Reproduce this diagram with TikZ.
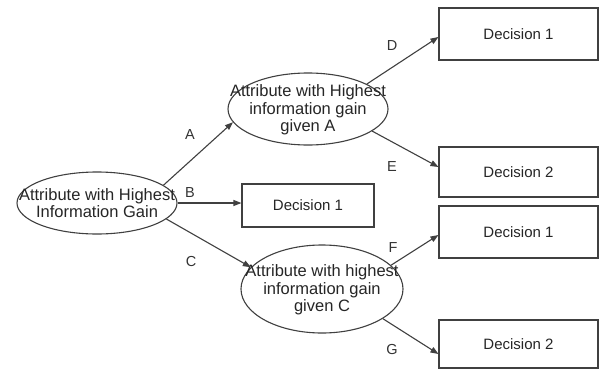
\documentclass[tikz,border=0pt]{standalone}
\usepackage{fontspec}
\setmainfont{Liberation Sans}
\usetikzlibrary{shapes.geometric,arrows.meta,calc}
\tikzset{
  ell/.style={draw=black!75, line width=1.1pt, ellipse, inner sep=0pt},
  box/.style={draw=black!75, line width=1.1pt, rectangle, inner sep=0pt},
  etxt/.style={font=\fontsize{16.5}{17.5}\selectfont, text=black!85, align=center, inner sep=0pt},
  txt/.style={font=\fontsize{15}{17}\selectfont, text=black!85, align=center, inner sep=0pt},
  lbl/.style={font=\fontsize{14.5}{17}\selectfont, text=black!80, inner sep=0pt},
  arr/.style={draw=black!75, line width=1.1pt, -{Triangle[length=8pt,width=6pt]}}
}
\begin{document}
\begin{tikzpicture}[x=1pt,y=-1pt]
\useasboundingbox[fill=white] (0,0) rectangle (600,370);
% ellipses
\node[ell, minimum width=160pt, minimum height=62pt] (r) at (97,203) {};
\node[ell, minimum width=160pt, minimum height=72pt] (a) at (308,109) {};
\node[ell, minimum width=162pt, minimum height=88pt] (c) at (322,289) {};
\node[etxt] (rt) at (97,203) {Attribute with Highest\\Information Gain};
\node[etxt] (at) at (308,110) {Attribute with Highest\\information gain\\given A};
\node[etxt] (ct) at (322,290) {Attribute with highest\\information gain\\given C};
% boxes
\node[box, minimum width=159pt, minimum height=52pt] (d) at (518.5,34) {};
\node[box, minimum width=159pt, minimum height=50pt] (e) at (518.5,172) {};
\node[box, minimum width=132pt, minimum height=43pt] (b) at (308,205.5) {};
\node[box, minimum width=159pt, minimum height=52pt] (f) at (518.5,232) {};
\node[box, minimum width=159pt, minimum height=48pt] (g) at (518.5,344) {};
\node[txt] (dt) at (d) {Decision 1};
\node[txt] (et) at (e) {Decision 2};
\node[txt] (bt) at (b) {Decision 1};
\node[txt] (ft) at (f) {Decision 1};
\node[txt] (gt) at (g) {Decision 2};
% arrows
\draw[arr] (r.15) -- (a.190);
\draw[arr] (r.east) -- (r.east -| b.west);
\draw[arr] (r.-13) -- (c.163);
\draw[arr] (a.23) -- ([yshift=-3pt]d.west);
\draw[arr] (a.-19) -- ([yshift=5pt]e.west);
\draw[arr] (c.19) -- ([yshift=-3pt]f.west);
\draw[arr] (c.-26) -- ([yshift=-10pt]g.west);
% labels
\node[lbl] (la) at (190,135) {A};
\node[lbl] (lb) at (190,193) {B};
\node[lbl] (lc) at (191,262) {C};
\node[lbl] (ld) at (392,46) {D};
\node[lbl] (le) at (392,167) {E};
\node[lbl] (lf) at (393,248) {F};
\node[lbl] (lg) at (392,350) {G};
\end{tikzpicture}
\end{document}
